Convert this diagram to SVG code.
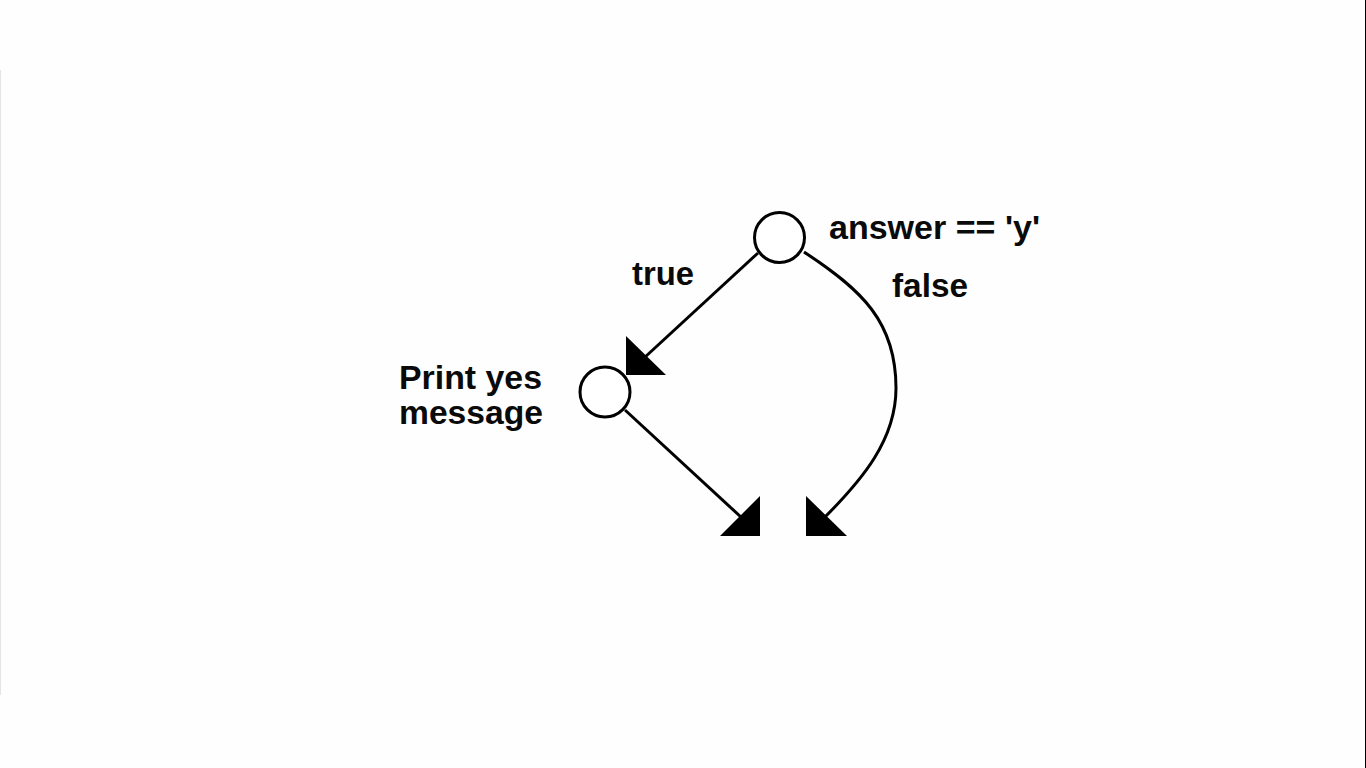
<svg xmlns="http://www.w3.org/2000/svg" width="1366" height="768" viewBox="0 0 1366 768">
  <style>
    .node { fill: #ffffff; stroke: #000000; stroke-width: 3; }
    .edge { fill: none; stroke: #000000; stroke-width: 3; }
    .head { fill: #000000; stroke: none; }
    .label { font-family: "Liberation Sans", Arial, sans-serif; font-weight: bold; font-size: 33.5px; fill: #0a0a0a; }
  </style>
  <rect x="0" y="0" width="1366" height="768" fill="#fefefe"/>
  <!-- frame edges -->
  <line x1="0.5" y1="70" x2="0.5" y2="695" stroke="#e4e4e4" stroke-width="1"/>
  <line x1="1365.5" y1="0" x2="1365.5" y2="768" stroke="#000000" stroke-width="1"/>

  <g id="connectors">
    <!-- true branch -->
    <line class="edge" x1="758" y1="253" x2="644" y2="358"/>
    <polygon class="head" points="626,336 626,375 666,375"/>
    <!-- after print -->
    <line class="edge" x1="625" y1="410" x2="742" y2="518"/>
    <polygon class="head" points="760,496 760,536 720,536"/>
    <!-- false branch -->
    <path class="edge" d="M804,252 C862,290 896,322 896,388 C896,440 862,480 824,518"/>
    <polygon class="head" points="806,496 806,536 847,536"/>
  </g>

  <g id="decision">
    <circle class="node" cx="779.5" cy="237.5" r="25"/>
    <text class="label" x="829" y="239" textLength="211" lengthAdjust="spacingAndGlyphs">answer == 'y'</text>
  </g>

  <g id="print-yes">
    <circle class="node" cx="605" cy="392" r="25"/>
    <text class="label" x="399" y="389" textLength="143" lengthAdjust="spacingAndGlyphs">Print yes</text>
    <text class="label" x="399" y="424" textLength="144" lengthAdjust="spacingAndGlyphs">message</text>
  </g>

  <g id="edge-labels">
    <text class="label" x="632" y="285" textLength="62" lengthAdjust="spacingAndGlyphs">true</text>
    <text class="label" x="892" y="297" textLength="76" lengthAdjust="spacingAndGlyphs">false</text>
  </g>
</svg>
